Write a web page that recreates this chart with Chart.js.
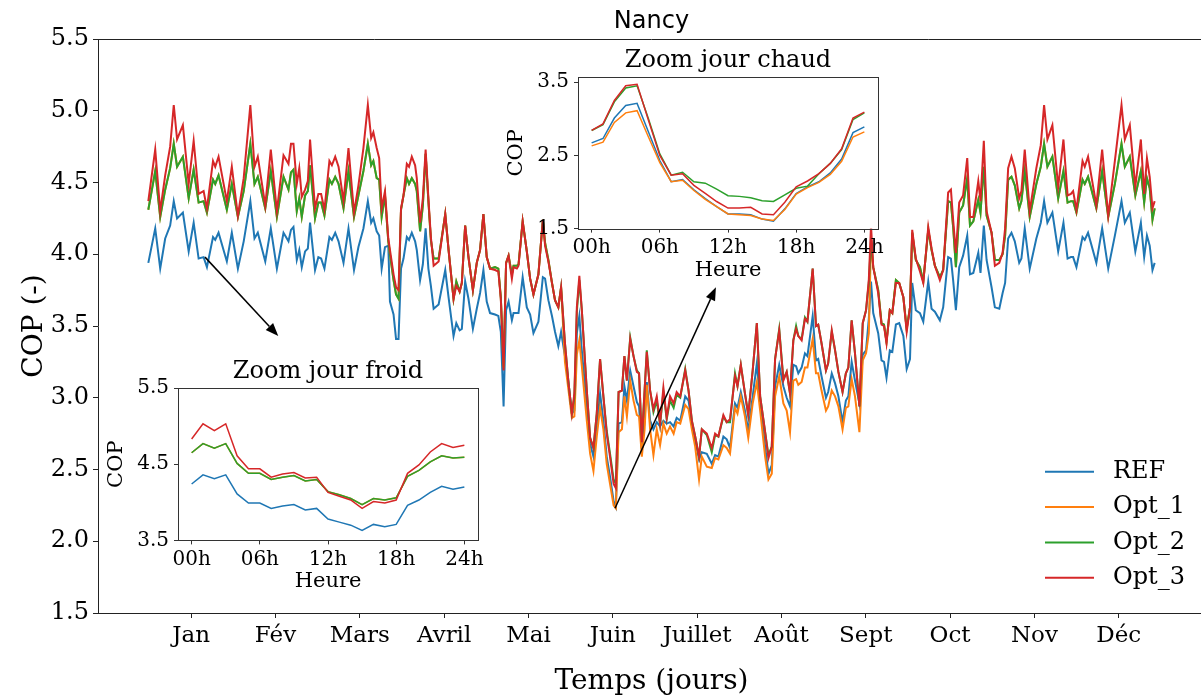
<!DOCTYPE html>
<html lang="fr">
<head>
<meta charset="utf-8">
<title>Nancy - COP</title>
<script src="https://cdn.jsdelivr.net/npm/chart.js@4.4.1/dist/chart.umd.min.js"></script>
<style>
  html, body { margin:0; padding:0; background:#fff; overflow:hidden; }
  #wrap { position:relative; width:1210px; height:698px; }
  canvas { position:absolute; left:0; top:0; }
</style>
</head>
<body>
<div id="wrap">
  <canvas id="main" width="1210" height="698"></canvas>
  <canvas id="chaud"></canvas>
  <canvas id="froid"></canvas>
</div>
<script>
// jours de l'année et COP journalier
const jours = [
  0, 2.5, 4.3, 6.1, 7.9, 9.2, 10.4, 12.5, 14.6, 16.4, 18.2, 20, 21.2, 23.4, 24.2, 25.4, 28.4, 30.2, 32.4, 34.5, 36.9, 38.4, 39.6, 42.3, 44.3, 46.5, 48.9,
  50.7, 51.6, 52.5, 53.7, 54.6, 55.5, 56.7, 57.7, 58.5, 60.3, 61.5, 62.5, 63.7, 65.5, 66.4, 67.6, 68.8, 70.6, 72.4, 74.4, 76, 77.8, 79.4, 80.6, 81.4, 82.6, 83.5, 84.4, 85.6, 86.8, 87.4, 88.7, 89.6, 90.5, 91.4, 92.3, 93.5, 94.3, 95.3, 96.5, 97.1, 98.3, 99.3, 100.3, 101.3, 102.2,
  103.2, 105, 107.4, 108.6, 110.4, 111.4, 112.6, 113.4, 114.6, 115.8, 117.4, 118.8, 120, 121.2, 122.4, 123.6, 125.4, 126.6, 127.5, 128.5, 129.4, 130.3, 131.5, 132.1, 133.3, 133.9, 135.4, 136.9, 138.1, 139.3, 141.1, 142.7, 143.5, 144.7, 146, 147.1, 148.3, 149.3, 150.7, 152, 153.2, 154.1, 155, 155.9,
  156.8, 158.6, 159.8, 161, 162.2, 163.4, 164.6, 165.8, 167, 168.3, 169.1, 170.1, 171.3, 172.2, 173.1, 174.3, 175.5, 176.7, 177.5, 178.5, 179.5, 180.3, 181.5, 182.7, 183.9, 185.1, 186.3, 187.5, 188.7, 190, 191.1, 192.4, 194.2, 195.4, 196.6, 197.8, 199.2, 200.2, 202, 203.8, 205, 206.2,
  208, 209.2, 210.4, 212.2, 213.1, 214.3, 215.8, 217, 218.6, 220.1, 221.3, 223.1, 224.3, 225.5, 226.7, 228.2, 229.7, 230.9, 232.1, 233.3, 234.3, 235.1, 236.3, 237.5, 238.4, 240.3, 241.5, 242.3, 243.5, 245.1, 245.9, 247.2, 248.4, 249.6, 251.1, 252.3, 253.2, 254.4, 255.6, 257.2, 258.4, 259.6, 260.6,
  261.4, 262.2, 264, 265.2, 266.1, 267, 268.2, 269.1, 270.4, 271.6, 273.1, 274.3, 275.5, 276.3, 277.6, 279.1, 280.3, 282.1, 283.3, 284.5, 286.3, 287.5, 289.3, 290.3, 291.1, 292.1, 293.3, 294.7, 296.2, 297.2, 298.4, 300.2, 301, 302.2, 303.2, 305, 306.2, 307.8, 309, 309.9,
  311, 312.2, 313.4, 315, 315.8, 317, 318.8, 321.2, 322.8, 324, 325.2, 327, 329.1, 331, 332.5, 333.7, 334.5, 335.7, 337.9, 338.7, 339.9, 342.9, 345, 347.2, 349.6, 352, 353.2, 355, 357, 359, 360.2, 361.2, 362.2, 363.2, 364
];
const ref = [
  3.94, 4.18, 3.90, 4.11, 4.20, 4.37, 4.25, 4.29, 4.02, 4.22, 3.97, 3.98, 3.91, 4.12, 4.10, 4.15, 3.95, 4.15, 3.90, 4.09, 4.37, 4.11, 4.15, 3.95, 4.18, 3.90, 4.15,
  4.09, 4.17, 4.19, 3.96, 4.03, 3.91, 4.02, 4.04, 4.22, 3.89, 3.98, 3.97, 3.90, 4.12, 4.10, 4.15, 4.09, 3.94, 4.18, 3.89, 4.05, 4.18, 4.37, 4.22, 4.25, 4.16, 4.13, 3.90, 4.05, 4.06, 3.67, 3.58, 3.41, 3.41, 3.90, 3.97, 4.12, 4.10, 4.15, 4.09, 4.03, 3.82, 3.93, 4.18, 3.90, 3.78,
  3.62, 3.65, 3.89, 3.70, 3.43, 3.52, 3.47, 3.48, 3.81, 3.69, 3.48, 3.62, 3.73, 3.89, 3.67, 3.59, 3.58, 3.57, 3.46, 2.94, 3.61, 3.67, 3.54, 3.59, 3.59, 3.59, 3.84, 3.63, 3.58, 3.45, 3.53, 3.84, 3.83, 3.68, 3.57, 3.46, 3.36, 3.46, 3.29, 3.10, 2.89, 2.91, 3.45, 3.57,
  3.33, 2.94, 2.68, 2.59, 2.78, 3.03, 2.84, 2.59, 2.45, 2.28, 2.24, 2.82, 2.83, 3.08, 2.98, 3.19, 3.08, 2.97, 2.94, 2.64, 2.84, 3.11, 2.84, 2.78, 2.83, 2.80, 2.84, 2.82, 2.83, 2.80, 2.86, 2.84, 3.01, 2.98, 2.82, 2.71, 2.57, 2.62, 2.61, 2.54, 2.60, 2.59,
  2.73, 2.71, 2.65, 2.96, 2.93, 3.04, 2.91, 2.77, 3.01, 3.24, 2.96, 2.66, 2.47, 2.53, 3.08, 3.23, 3.08, 3.00, 2.94, 3.23, 3.22, 3.17, 3.21, 3.31, 3.29, 3.57, 3.26, 3.27, 3.15, 3.00, 3.04, 3.17, 3.10, 3.01, 2.83, 2.98, 3.01, 3.25, 3.12, 2.96, 3.30, 3.33, 3.55,
  3.81, 3.59, 3.45, 3.26, 3.25, 3.14, 3.33, 3.32, 3.51, 3.52, 3.43, 3.20, 3.27, 3.80, 3.61, 3.59, 3.53, 3.81, 3.62, 3.60, 3.54, 3.63, 3.98, 3.97, 3.82, 3.61, 3.91, 3.99, 4.13, 3.86, 3.87, 4.01, 3.87, 4.20, 3.96, 3.77, 3.63, 3.62, 3.73, 3.80,
  4.11, 4.15, 4.09, 3.94, 3.97, 4.18, 3.90, 4.11, 4.22, 4.37, 4.22, 4.29, 4.02, 4.22, 3.97, 3.98, 3.98, 3.91, 4.12, 4.10, 4.15, 3.94, 4.18, 3.90, 4.13, 4.37, 4.22, 4.29, 4.02, 4.22, 3.98, 4.13, 4.06, 3.89, 3.94
];
const opt1 = [
  4.31, 4.58, 4.26, 4.45, 4.60, 4.77, 4.61, 4.68, 4.39, 4.59, 4.36, 4.37, 4.29, 4.52, 4.49, 4.55, 4.31, 4.49, 4.26, 4.44, 4.77, 4.49, 4.54, 4.32, 4.58, 4.26, 4.54,
  4.45, 4.57, 4.59, 4.30, 4.39, 4.26, 4.41, 4.44, 4.62, 4.25, 4.36, 4.36, 4.27, 4.52, 4.49, 4.54, 4.49, 4.32, 4.58, 4.26, 4.41, 4.58, 4.77, 4.62, 4.65, 4.53, 4.52, 4.26, 4.41, 4.09, 4.00, 3.82, 3.72, 3.69, 4.31, 4.41, 4.53, 4.49, 4.53, 4.49, 4.44, 4.16, 4.34, 4.70, 4.37, 4.10,
  3.97, 3.97, 4.28, 4.03, 3.69, 3.81, 3.74, 3.80, 4.20, 3.98, 3.75, 3.94, 4.03, 4.28, 3.98, 3.90, 3.91, 3.90, 3.70, 3.21, 3.94, 3.99, 3.86, 3.92, 3.92, 3.93, 4.23, 4.02, 3.83, 3.72, 3.86, 4.24, 4.08, 3.96, 3.80, 3.68, 3.63, 3.77, 3.25, 3.05, 2.86, 2.87, 3.30, 3.40,
  3.22, 2.84, 2.61, 2.49, 2.73, 2.93, 2.78, 2.54, 2.40, 2.25, 2.23, 2.76, 2.78, 3.01, 2.87, 3.12, 2.98, 2.88, 2.87, 2.59, 2.78, 3.09, 2.78, 2.60, 2.78, 2.67, 2.82, 2.75, 2.80, 2.75, 2.83, 2.82, 2.95, 2.92, 2.78, 2.66, 2.43, 2.59, 2.52, 2.51, 2.58, 2.57,
  2.67, 2.65, 2.61, 2.93, 2.89, 3.01, 2.87, 2.72, 2.96, 3.11, 2.91, 2.59, 2.43, 2.47, 3.01, 3.15, 2.96, 2.91, 2.76, 3.12, 3.13, 3.09, 3.11, 3.21, 3.21, 3.41, 3.17, 3.17, 3.05, 2.91, 2.94, 3.05, 3.01, 2.94, 2.78, 2.93, 2.94, 3.13, 3.01, 2.76, 3.26, 3.31, 3.45,
  4.10, 3.91, 3.75, 3.52, 3.51, 3.39, 3.61, 3.59, 3.82, 3.80, 3.70, 3.48, 3.63, 4.15, 3.96, 3.91, 3.81, 4.17, 4.03, 3.92, 3.84, 3.89, 4.37, 4.36, 4.19, 3.91, 4.29, 4.34, 4.53, 4.20, 4.23, 4.38, 4.29, 4.61, 4.27, 4.15, 3.96, 3.96, 4.00, 4.13,
  4.52, 4.54, 4.48, 4.32, 4.37, 4.58, 4.26, 4.49, 4.61, 4.77, 4.61, 4.68, 4.39, 4.58, 4.36, 4.37, 4.37, 4.29, 4.52, 4.49, 4.54, 4.32, 4.58, 4.26, 4.49, 4.77, 4.61, 4.68, 4.41, 4.58, 4.36, 4.53, 4.46, 4.24, 4.32
];
const opt2 = [
  4.31, 4.58, 4.26, 4.45, 4.60, 4.77, 4.61, 4.68, 4.39, 4.59, 4.36, 4.37, 4.29, 4.52, 4.49, 4.55, 4.31, 4.49, 4.26, 4.44, 4.77, 4.49, 4.54, 4.32, 4.58, 4.26, 4.54,
  4.45, 4.57, 4.59, 4.30, 4.39, 4.26, 4.41, 4.44, 4.62, 4.25, 4.36, 4.36, 4.27, 4.52, 4.49, 4.54, 4.49, 4.32, 4.58, 4.26, 4.41, 4.58, 4.77, 4.62, 4.65, 4.53, 4.52, 4.26, 4.41, 4.09, 4.00, 3.82, 3.72, 3.69, 4.31, 4.41, 4.53, 4.49, 4.53, 4.49, 4.44, 4.16, 4.34, 4.70, 4.37, 4.10,
  3.97, 3.97, 4.28, 4.03, 3.69, 3.81, 3.74, 3.80, 4.20, 3.98, 3.75, 3.94, 4.03, 4.28, 3.98, 3.90, 3.91, 3.90, 3.70, 3.21, 3.94, 3.99, 3.86, 3.92, 3.92, 3.93, 4.23, 4.02, 3.83, 3.72, 3.86, 4.24, 4.08, 3.96, 3.80, 3.68, 3.63, 3.77, 3.38, 3.10, 2.89, 3.00, 3.60, 3.82,
  3.61, 3.05, 2.72, 2.65, 2.89, 3.27, 3.01, 2.77, 2.61, 2.43, 2.40, 3.04, 3.05, 3.29, 3.12, 3.42, 3.29, 3.19, 3.17, 2.71, 3.05, 3.33, 3.05, 2.90, 2.98, 2.81, 3.04, 2.85, 2.98, 2.93, 3.02, 3.00, 3.20, 3.05, 2.84, 2.73, 2.59, 2.78, 2.74, 2.62, 2.74, 2.73,
  2.87, 2.83, 2.83, 3.17, 3.08, 3.23, 3.03, 2.88, 3.19, 3.52, 3.01, 2.76, 2.60, 2.66, 3.27, 3.48, 3.13, 3.18, 3.03, 3.40, 3.50, 3.43, 3.41, 3.56, 3.53, 3.90, 3.50, 3.51, 3.38, 3.19, 3.24, 3.46, 3.33, 3.18, 3.04, 3.17, 3.21, 3.54, 3.31, 2.94, 3.52, 3.61, 3.80,
  4.10, 3.91, 3.75, 3.52, 3.51, 3.39, 3.61, 3.59, 3.82, 3.80, 3.70, 3.48, 3.63, 4.15, 3.96, 3.91, 3.81, 4.17, 4.03, 3.92, 3.84, 3.89, 4.37, 4.36, 4.19, 3.91, 4.29, 4.34, 4.53, 4.20, 4.23, 4.38, 4.29, 4.61, 4.27, 4.15, 3.96, 3.96, 4.00, 4.13,
  4.52, 4.54, 4.48, 4.32, 4.37, 4.58, 4.26, 4.49, 4.61, 4.77, 4.61, 4.68, 4.39, 4.58, 4.36, 4.37, 4.37, 4.29, 4.52, 4.49, 4.54, 4.32, 4.58, 4.26, 4.49, 4.77, 4.61, 4.68, 4.41, 4.58, 4.36, 4.53, 4.46, 4.24, 4.32
];
const opt3 = [
  4.37, 4.73, 4.30, 4.55, 4.75, 5.04, 4.80, 4.90, 4.49, 4.79, 4.42, 4.44, 4.32, 4.65, 4.61, 4.68, 4.37, 4.61, 4.27, 4.53, 5.04, 4.61, 4.68, 4.34, 4.73, 4.30, 4.69,
  4.63, 4.77, 4.77, 4.49, 4.60, 4.40, 4.45, 4.51, 4.80, 4.32, 4.42, 4.42, 4.31, 4.65, 4.62, 4.68, 4.61, 4.37, 4.74, 4.29, 4.48, 4.74, 5.04, 4.81, 4.85, 4.74, 4.67, 4.32, 4.44, 4.11, 4.03, 3.86, 3.77, 3.75, 4.32, 4.41, 4.63, 4.61, 4.68, 4.62, 4.53, 4.22, 4.39, 4.73, 4.39, 4.12,
  3.92, 3.95, 4.28, 4.03, 3.69, 3.78, 3.74, 3.80, 4.20, 3.98, 3.75, 3.94, 4.03, 4.28, 3.98, 3.90, 3.89, 3.88, 3.69, 3.19, 3.94, 3.99, 3.83, 3.91, 3.90, 3.92, 4.23, 4.02, 3.83, 3.72, 3.86, 4.24, 4.06, 3.95, 3.80, 3.68, 3.63, 3.77, 3.38, 3.10, 2.89, 3.03, 3.63, 3.85,
  3.61, 3.05, 2.72, 2.65, 2.89, 3.27, 3.01, 2.75, 2.59, 2.40, 2.37, 3.04, 3.05, 3.29, 3.12, 3.41, 3.29, 3.18, 3.17, 2.69, 3.05, 3.32, 3.05, 2.92, 3.01, 2.82, 3.07, 2.86, 3.01, 2.96, 3.04, 3.01, 3.19, 3.05, 2.84, 2.73, 2.59, 2.78, 2.75, 2.65, 2.75, 2.73,
  2.88, 2.83, 2.85, 3.15, 3.08, 3.23, 3.03, 2.88, 3.19, 3.52, 3.01, 2.76, 2.58, 2.66, 3.27, 3.47, 3.12, 3.18, 3.03, 3.40, 3.48, 3.43, 3.40, 3.55, 3.53, 3.90, 3.50, 3.51, 3.38, 3.19, 3.24, 3.47, 3.33, 3.18, 3.04, 3.17, 3.21, 3.54, 3.31, 2.94, 3.52, 3.61, 3.82,
  4.20, 3.91, 3.73, 3.51, 3.50, 3.38, 3.61, 3.59, 3.80, 3.80, 3.70, 3.46, 3.63, 4.17, 3.97, 3.88, 3.80, 4.19, 4.04, 3.92, 3.82, 3.89, 4.43, 4.45, 4.24, 4.01, 4.36, 4.41, 4.67, 4.26, 4.26, 4.51, 4.37, 4.79, 4.30, 4.15, 3.92, 3.94, 4.01, 4.18,
  4.60, 4.68, 4.60, 4.39, 4.44, 4.73, 4.30, 4.60, 4.76, 5.04, 4.80, 4.90, 4.47, 4.80, 4.41, 4.42, 4.44, 4.31, 4.65, 4.61, 4.68, 4.34, 4.73, 4.27, 4.65, 5.04, 4.80, 4.90, 4.47, 4.80, 4.42, 4.67, 4.54, 4.32, 4.37
];

const moisJours = [15.5, 46, 76.5, 107, 137.5, 168, 198.5, 229, 259.5, 290, 320.5, 351];
const moisNoms = ["Jan", "Fév", "Mars", "Avril", "Mai", "Juin", "Juillet", "Août", "Sept", "Oct", "Nov", "Déc"];
const copTicks = [1.5, 2.0, 2.5, 3.0, 3.5, 4.0, 4.5, 5.0, 5.5];

// zooms horaires
const heures = [0,1,2,3,4,5,6,7,8,9,10,11,12,13,14,15,16,17,18,19,20,21,22,23,24];
const heureTicks = [0, 6, 12, 18, 24];
const heureNoms = ["00h", "06h", "12h", "18h", "24h"];

const chaudRef  = [2.67, 2.73, 3.01, 3.18, 3.21, 2.82, 2.43, 2.14, 2.17, 2.03, 1.91, 1.80, 1.70, 1.70, 1.69, 1.63, 1.60, 1.77, 1.98, 2.07, 2.14, 2.26, 2.45, 2.81, 2.89];
const chaudOpt1 = [2.63, 2.68, 2.95, 3.08, 3.11, 2.75, 2.40, 2.14, 2.16, 2.02, 1.90, 1.80, 1.70, 1.69, 1.68, 1.63, 1.61, 1.76, 1.97, 2.06, 2.13, 2.24, 2.42, 2.75, 2.82];
const chaudOpt2 = [2.84, 2.92, 3.23, 3.42, 3.45, 3.00, 2.52, 2.23, 2.27, 2.14, 2.12, 2.04, 1.95, 1.94, 1.92, 1.88, 1.87, 1.96, 2.05, 2.08, 2.25, 2.39, 2.58, 2.99, 3.08];
const chaudOpt3 = [2.84, 2.93, 3.25, 3.45, 3.47, 2.98, 2.50, 2.23, 2.25, 2.09, 1.98, 1.87, 1.78, 1.78, 1.79, 1.70, 1.69, 1.86, 2.07, 2.15, 2.25, 2.39, 2.59, 3.01, 3.09];
const chaudTicks = [1.5, 2.5, 3.5];

const froidRef  = [4.24, 4.36, 4.31, 4.36, 4.11, 3.99, 3.99, 3.92, 3.95, 3.97, 3.90, 3.92, 3.78, 3.74, 3.70, 3.63, 3.71, 3.68, 3.71, 3.96, 4.03, 4.13, 4.21, 4.17, 4.20];
const froidOpt1 = [4.65, 4.77, 4.71, 4.77, 4.51, 4.38, 4.38, 4.30, 4.33, 4.35, 4.28, 4.30, 4.14, 4.10, 4.05, 3.97, 4.05, 4.03, 4.06, 4.34, 4.42, 4.53, 4.61, 4.58, 4.59];
const froidOpt2 = [4.65, 4.77, 4.71, 4.77, 4.51, 4.38, 4.38, 4.30, 4.33, 4.35, 4.28, 4.30, 4.14, 4.10, 4.05, 3.97, 4.05, 4.03, 4.06, 4.34, 4.42, 4.53, 4.61, 4.58, 4.59];
const froidOpt3 = [4.83, 5.03, 4.94, 5.03, 4.61, 4.44, 4.44, 4.33, 4.37, 4.39, 4.32, 4.33, 4.13, 4.08, 4.03, 3.92, 4.01, 3.99, 4.03, 4.38, 4.49, 4.66, 4.77, 4.72, 4.75];
const froidTicks = [3.5, 4.5, 5.5];

const NOMS = ["REF", "Opt_1", "Opt_2", "Opt_3"];
const COLORS = ["#1f77b4", "#ff7f0e", "#2ca02c", "#d62728"];
const SERIF = "'DejaVu Serif', serif";

// flèches : départ sur la courbe, arrivée vers l'encart (coordonnées données)
const flecheFroid = { de:[20.5, 3.98], vers:[47.0, 3.43] };
const flecheChaud = { de:[168.8, 2.23], vers:[205.3, 3.77] };

function pts(xs, ys){ return xs.map((x,i) => ({x, y:ys[i]})); }

function makeDatasets(xs, series, lw){
  return series.map((ys,i) => ({
    label:NOMS[i], data:pts(xs, ys), borderColor:COLORS[i], backgroundColor:COLORS[i],
    borderWidth:lw, pointRadius:0, tension:0, order:series.length-1-i
  }));
}

function fleche(ctx, x0, y0, x1, y1){
  const a = Math.atan2(y1-y0, x1-x0), L = 13, W = 5;
  const bx = x1 - L*Math.cos(a), by = y1 - L*Math.sin(a);
  ctx.beginPath(); ctx.moveTo(x0, y0); ctx.lineTo(bx, by); ctx.stroke();
  ctx.beginPath(); ctx.moveTo(x1, y1);
  ctx.lineTo(bx + W*Math.sin(a), by - W*Math.cos(a));
  ctx.lineTo(bx - W*Math.sin(a), by + W*Math.cos(a));
  ctx.closePath(); ctx.fill();
}

const decorMain = {
  id:"decorMain",
  afterDraw(chart){
    const {ctx, chartArea:ca, scales:{x, y}} = chart;
    ctx.save();
    // cadre haut
    ctx.strokeStyle = "#222"; ctx.lineWidth = 1;
    ctx.beginPath(); ctx.moveTo(ca.left, ca.top+0.5); ctx.lineTo(ca.right, ca.top+0.5); ctx.stroke();
    // titre
    ctx.fillStyle = "#000"; ctx.textAlign = "center"; ctx.textBaseline = "middle";
    ctx.font = "24px 'DejaVu Sans', sans-serif";
    ctx.fillText("Nancy", (ca.left+ca.right)/2, 22);
    // flèches
    ctx.strokeStyle = "#000"; ctx.fillStyle = "#000"; ctx.lineWidth = 1.5;
    [flecheFroid, flecheChaud].forEach(f => fleche(ctx,
      x.getPixelForValue(f.de[0]), y.getPixelForValue(f.de[1]),
      x.getPixelForValue(f.vers[0]), y.getPixelForValue(f.vers[1])));
    // légende
    ctx.font = "24px " + SERIF; ctx.textAlign = "left";
    chart.data.datasets.forEach((d, i) => {
      const yy = ca.bottom - 35.3*(chart.data.datasets.length - i);
      ctx.strokeStyle = d.borderColor; ctx.lineWidth = 2;
      ctx.beginPath(); ctx.moveTo(ca.right-160, yy); ctx.lineTo(ca.right-111, yy); ctx.stroke();
      ctx.fillStyle = "#000"; ctx.fillText(d.label, ca.right-92, yy);
    });
    ctx.restore();
  }
};

new Chart(document.getElementById("main"), {
  type:"line",
  data:{ datasets: makeDatasets(jours, [ref, opt1, opt2, opt3], 2) },
  options:{
    responsive:false, animation:false, events:[],
    layout:{ padding:{ left:0, top:39, right:5, bottom:0 } },
    plugins:{ legend:{display:false}, tooltip:{enabled:false} },
    scales:{
      x:{ type:"linear", min:-18.2, max:382.2,
        afterBuildTicks: s => { s.ticks = moisJours.map(v => ({value:v})); },
        afterFit: s => { s.height = 85; },
        ticks:{ autoSkip:false, maxRotation:0, padding:4, color:"#000", font:{family:SERIF, size:23},
          callback:(v, i) => moisNoms[i] },
        grid:{ drawOnChartArea:false, tickLength:5, color:"#222" },
        border:{ color:"#222", width:1 },
        title:{ display:true, text:"Temps (jours)", color:"#000", font:{family:SERIF, size:28, lineHeight:1}, padding:{top:0, bottom:2} }
      },
      y:{ min:1.5, max:5.5,
        afterBuildTicks: s => { s.ticks = copTicks.map(v => ({value:v})); },
        afterFit: s => { s.width = 98; },
        ticks:{ padding:4, color:"#000", font:{family:SERIF, size:24}, callback: v => v.toFixed(1) },
        grid:{ drawOnChartArea:false, tickLength:5, color:"#222" },
        border:{ color:"#222", width:1 },
        title:{ display:true, text:"COP (-)", color:"#000", font:{family:SERIF, size:28, lineHeight:1}, padding:{top:21, bottom:0} }
      }
    }
  },
  plugins:[decorMain]
});

// encarts : position de la zone de tracé dans la page
function encart(id, cadre, titre, series, yMin, yMax, yTicks){
  const cv = document.getElementById(id);
  const W = 430, H = 260;
  const ox = cadre.left - 98, oy = cadre.top - 40;
  cv.width = W; cv.height = H;
  cv.style.left = ox + "px"; cv.style.top = oy + "px";
  const gauche = cadre.left - ox, haut = cadre.top - oy;
  const droite = W - (cadre.right - ox), bas = H - (cadre.bottom - oy);
  const fond = {
    id:"fond"+id,
    beforeDraw(chart){
      const {ctx, chartArea:ca} = chart;
      ctx.save(); ctx.fillStyle = "#fff";
      ctx.fillRect(ca.left, ca.top, ca.right-ca.left, ca.bottom-ca.top); ctx.restore();
    },
    afterDraw(chart){
      const {ctx, chartArea:ca} = chart;
      ctx.save();
      ctx.strokeStyle = "#333"; ctx.lineWidth = 1;
      ctx.strokeRect(Math.round(ca.left)+0.5, Math.round(ca.top)+0.5, Math.round(ca.right-ca.left), Math.round(ca.bottom-ca.top));
      ctx.fillStyle = "#000"; ctx.textAlign = "center"; ctx.textBaseline = "middle";
      ctx.font = "24px " + SERIF;
      ctx.fillText(titre, (ca.left+ca.right)/2, ca.top-16);
      ctx.restore();
    }
  };
  new Chart(cv, {
    type:"line",
    data:{ datasets: makeDatasets(heures, series, 1.5) },
    options:{
      responsive:false, animation:false, events:[],
      layout:{ padding:{ left:0, top:haut, right:droite, bottom:0 } },
      plugins:{ legend:{display:false}, tooltip:{enabled:false} },
      scales:{
        x:{ type:"linear", min:-1.2, max:25.2,
          afterBuildTicks: s => { s.ticks = heureTicks.map(v => ({value:v})); },
          afterFit: s => { s.height = bas; },
          ticks:{ autoSkip:false, maxRotation:0, padding:3, color:"#000", font:{family:SERIF, size:20},
            callback:(v, i) => heureNoms[i] },
          grid:{ drawOnChartArea:false, tickLength:4, color:"#333" },
          border:{ display:false },
          title:{ display:true, text:"Heure", color:"#000", font:{family:SERIF, size:21, lineHeight:1}, padding:{top:0, bottom:16} }
        },
        y:{ min:yMin, max:yMax,
          afterBuildTicks: s => { s.ticks = yTicks.map(v => ({value:v})); },
          afterFit: s => { s.width = gauche; },
          ticks:{ padding:5, color:"#000", font:{family:SERIF, size:20}, callback: v => v.toFixed(1) },
          grid:{ drawOnChartArea:false, tickLength:4, color:"#333" },
          border:{ display:false },
          title:{ display:true, text:"COP", color:"#000", font:{family:SERIF, size:21, lineHeight:1}, padding:{top:26, bottom:0} }
        }
      }
    },
    plugins:[fond]
  });
}

encart("chaud", {left:577.7, top:76.7, right:877.7, bottom:228.3}, "Zoom jour chaud",
  [chaudRef, chaudOpt1, chaudOpt2, chaudOpt3], 1.5, 3.57, chaudTicks);
encart("froid", {left:178.3, top:388.3, right:478.3, bottom:540.7}, "Zoom jour froid",
  [froidRef, froidOpt1, froidOpt2, froidOpt3], 3.5, 5.5, froidTicks);
</script>
</body>
</html>
